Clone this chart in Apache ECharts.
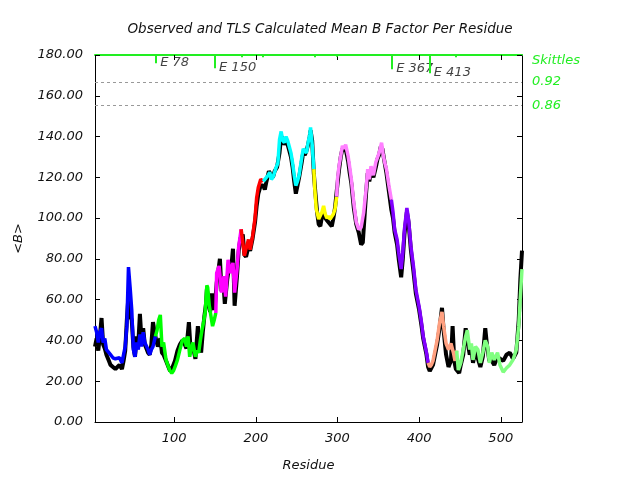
<!DOCTYPE html>
<html><head><meta charset="utf-8">
<script src="https://cdn.jsdelivr.net/npm/echarts@6/dist/echarts.min.js"></script>
<style>html,body{margin:0;padding:0;background:#fff}#c{width:640px;height:480px}</style>
</head><body><div id="c"></div>
<script>
// TLS calculated mean B per residue
const calcRes = [3,5,7,9,11,13,15,17,20,22,25,28,30,33,36,38,40,42,44,46,48,50,52,54,56,58,60,62,64,66,68,70,72,74,77,
79,81,83,85,87,90,93,95,97,99,101,104,107,110,113,115,117,119,121,123,126,128,130,132,134,136,138,140,141,143,145,147,149,151,
152,155,158,161,163,166,169,172,174,177,179,182,
184,186,188,191,193,196,199,201,203,206,209,
211,213,215,217,219,221,223,225,227,229,231,233,235,237,239,241,243,245,247,249,251,253,256,258,260,262,264,266,267,269,271,
272,274,277,279,281,283,285,287,289,291,293,295,297,299,
300,302,304,306,308,310,313,315,317,320,323,326,329,332,335,337,339,341,344,347,349,351,354,356,358,360,363,366,
368,370,373,375,378,380,382,385,387,390,393,396,400,403,405,409,411,
413,415,417,419,422,425,428,430,433,436,439,442,444,446,
448,451,454,457,459,462,464,466,469,472,475,478,481,484,486,489,492,496,499,503,507,511,515,519,522,524,526];
const calcB = [47,44,39,44,46,39,41,35.5,34,33,31.5,31,30.5,31.5,29,33,37,47,76,66,55,35.5,32,39,35.5,43,37,44,39,39.5,35.5,33,35.5,37,42,
45,50,52.5,37,39,30.5,27,25,24,25,27,30.5,35.5,40,41,37,42,32,36,39,32,35,34,40,45,49,54,67,66,57,52,47,50,53.5,
73,76.5,63.5,71.5,61.5,79.5,73,78,63.5,75,86,94.5,
94.5,81.5,85,89.5,84.5,91,100,110,115,119,118,
118,120,121,122.5,119,120,122.5,125,127,138.5,142.5,138,137,140,138,135,132,127,121,116,118,121,129,134,133,132,137,141,144.5,136,124,
115.5,104.5,99.5,99.5,103,106,102,100,101,99.5,99.5,102,104.5,110.5,
119,126,130.5,135.5,134,136,130.5,125,119,107.5,98,94.5,95.5,102.5,114,124,119,125.5,121,127.5,128,132,137,131,127,124,116,109,
103,94.5,89.5,83,75,83,94.5,105,99.5,86,76.5,65,56.5,48.5,42,34,29,
27,28,30,34,40,48.5,54,47,38.5,35.5,38.5,34,30,35,
25.5,29,35.5,42,45,35.5,38.5,30.5,37,35.5,29,34,40,37,29,34,30.5,34,28,24.5,26.5,28,30.5,35.5,47,61.5,75];
// Observed mean B per residue
const obsRes = [3,5,7,9,11,13,15,17,20,22,25,28,30,33,36,38,40,42,44,46,48,50,52,54,56,58,60,62,64,66,68,70,72,74,76,78,80,83,85,87,90,93,95,97,99,101,104,107,110,113,115,118,120,123,126,129,131,133,135,137,139,140,142,144,146,148,150,
152,156,158,160,162,165,168,170,172,174,177,179,181,184,186,188,191,193,196,199,201,203,206,209,211,213,216,219,221,223,226,229,231,233,235,237,239,241,243,245,247,249,251,253,256,258,260,262,264,266,267,269,271,273,275,277,279,281,283,285,287,289,291,293,295,297,299,
302,304,306,308,310,313,315,317,320,323,326,329,331,333,335,337,339,341,344,347,349,351,353,355,357,360,363,366,368,370,373,375,378,380,382,385,387,390,393,396,400,403,405,409,411,413,415,417,419,422,425,428,430,433,436,439,441,443,445,447,449,451,454,457,459,462,464,466,469,472,475,478,481,483,486,489,492,496,499,503,507,511,515,519,522,524,526];
const obsB = [37,41,35,42,51,38,36,33,30,28,27,26,26,28,26,30,35,50,62,52,50,37,32,42,38,53,40,46,38,36,34,33,38,49,44,40,37,41,34,33,30,27,25,26,28,30,35,38,40,38,36,49,36,37,31,47,38,34,44,52,58,65,60,54,63,55,58,
68,80,64,70,58,70,78,76,85,57,72,84,90,92,82,81,86,84,90,98,106,112,116,116,114,118,123,121,120,123,125,132,140,139,136,138,136,133,130,125,118,112,116,120,127,132,131,133,136,140,143,138,122,112,103,97,96,101,104,100,99,98,97,96,100,105,113,
124,130,134,133,134,128,122,117,105,97,93,87,88,100,112,122,118,123,120,125,129,131,135,134,129,122,113,104,100,93,87,80,71,80,92,103,98,84,74,63,55,47,41,33,27,25,25,28,32,38,46,56,45,33,27,30,47,30,26,25,24,28,33,46,40,33,36,29,35,31,27,32,46,38,30,30,28,32,31,30,33,34,31,34,50,70,84];
// TLS group boundaries and colours
const segBounds = [3,77,151,182,209,271,299,366,411,446,526];
const segColors = ['#0000ff','#00ff00','#ff00ff','#ff0000','#00ffff','#ffff00','#ff80ff','#8000ff','#ffa080','#80ff80'];
// Top markers
const markerRes = [78,150,183,208,272,299,367,413,445];
const markerDepth = [4,6.5,1.1,1.1,1.1,0.8,7,9,1.1];
const markerLabel = ['E 78','E 150','','','','','E 367','E 413',''];
// Skittles levels
const skLevels = [166.7,155.4];
const skLabels = ['0.92','0.86'];
const xTicks = [100,200,300,400,500];

const FONT = 'DejaVu Sans';
const GREEN = '#22ee22';
const series = [];
series.push({
  type:'line', data: obsRes.map((r,i)=>[r,obsB[i]]), showSymbol:false, symbol:'none',
  lineStyle:{color:'#000',width:4}, z:2
});
for (let s=0;s<segColors.length;s++){
  const a=segBounds[s], b=segBounds[s+1];
  const d=[];
  calcRes.forEach((r,i)=>{ if(r>=a && r<=b) d.push([r,calcB[i]]); });
  series.push({type:'line', data:d, symbol:'none', lineStyle:{color:segColors[s],width:3.5}, z:3});
}
series.push({
  type:'scatter', symbolSize:0,
  data: markerRes.map((r,i)=>({value:[r,180-markerDepth[i]], label:{show:!!markerLabel[i], formatter:markerLabel[i]}})),
  label:{position:'right', distance:4, offset:[0,-1], color:'#111', fontFamily:FONT, fontStyle:'italic', fontSize:13},
  markLine:{
    silent:true, symbol:'none', animation:false,
    lineStyle:{color:GREEN,width:2,type:'solid'},
    label:{show:false},
    data: markerRes.map((r,i)=>[{coord:[r,180]},{coord:[r,180-markerDepth[i]]}])
  }, z:4
});
series.push({
  type:'line', data:[], markLine:{
    silent:true, symbol:'none', animation:false,
    lineStyle:{color:'#999',width:1,type:[3,3]},
    label:{show:true, position:'end', distance:10, color:GREEN, fontFamily:FONT, fontStyle:'italic', fontSize:13,
      formatter:p=>skLabels[skLevels.indexOf(p.value)]},
    data: skLevels.map(v=>({yAxis:v}))
  }
});

const chart = echarts.init(document.getElementById('c'), null, {renderer:'canvas'});
const labelStyle = {color:'#111', fontFamily:FONT, fontStyle:'italic', fontSize:13};
chart.setOption({
  animation:false,
  backgroundColor:'#fff',
  title:{text:'Observed and TLS Calculated Mean B Factor Per Residue', left:'center', top:17,
    textStyle:{fontFamily:FONT, fontStyle:'italic', fontWeight:'normal', fontSize:13.5, color:'#111'}},
  grid:{left:95, right:118, top:55, bottom:58},
  graphic:[{type:'text', left:532, top:54, style:{text:'Skittles', fill:GREEN, font:'italic 13px "DejaVu Sans"'}}],
  xAxis:[{
    type:'value', min:3, max:526, position:'bottom',
    name:'Residue', nameLocation:'middle', nameGap:37, nameTextStyle:labelStyle,
    axisLine:{onZero:false, lineStyle:{color:'#000',width:1}},
    axisTick:{inside:true, length:5, customValues:xTicks, lineStyle:{color:'#000'}},
    axisLabel:Object.assign({customValues:xTicks, margin:10}, labelStyle),
    splitLine:{show:false}
  },{
    type:'value', min:3, max:526, position:'top',
    axisLine:{onZero:false, lineStyle:{color:GREEN,width:2}},
    axisTick:{inside:true, length:5, customValues:xTicks, lineStyle:{color:'#000',width:1}},
    axisLabel:{show:false}, splitLine:{show:false}
  }],
  yAxis:[{
    type:'value', min:0, max:180, interval:20, position:'left',
    name:'<B>', nameLocation:'middle', nameGap:70, nameTextStyle:labelStyle,
    axisLine:{show:true, onZero:false, lineStyle:{color:'#000',width:1}},
    axisTick:{inside:true, length:5, lineStyle:{color:'#000'}},
    axisLabel:Object.assign({margin:12, formatter:v=>v.toFixed(2)}, labelStyle),
    splitLine:{show:false}
  },{
    type:'value', min:0, max:180, interval:20, position:'right',
    axisLine:{show:true, onZero:false, lineStyle:{color:'#000',width:1}},
    axisTick:{inside:true, length:5, lineStyle:{color:'#000'}},
    axisLabel:{show:false}, splitLine:{show:false}
  }],
  series: series
});
</script>
</body></html>
